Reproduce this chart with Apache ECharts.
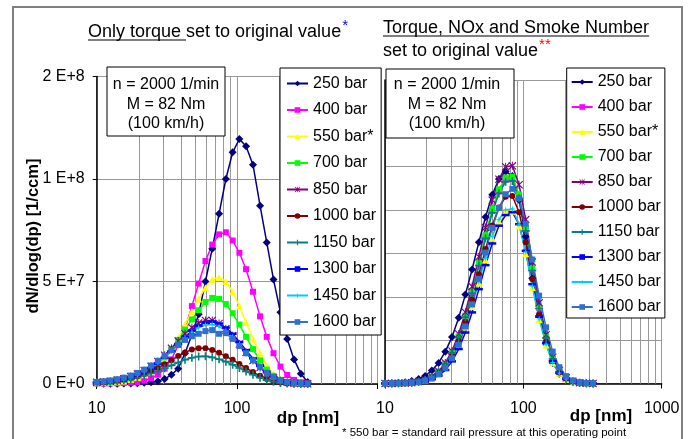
<!DOCTYPE html>
<html lang="en">
<head>
  <meta charset="utf-8">
  <title>Particle size distribution vs. rail pressure</title>
  <style>html, body { margin: 0; padding: 0; background: #fff; }</style>
</head>
<body>
  <div id="myCharts" style="width: 692px;height:439px;"></div>
  <script src="https://cdn.jsdelivr.net/npm/echarts@6/dist/echarts.min.js"></script>
  <script type="text/javascript">
    var FONT = '"Liberation Sans", Arial, sans-serif';

    // particle diameter channels [nm]
    var dp = [10, 11.2, 12.5, 14.0, 15.6, 17.5, 19.5, 21.8, 24.4, 27.3, 30.5, 34.1, 38.1, 42.6, 47.7, 53.3,
      59.6, 66.6, 74.5, 83.3, 93.1, 104, 116, 130, 146, 163, 182, 204, 228, 255, 285, 319];
    var seriesNames = ['250 bar', '400 bar', '550 bar*', '700 bar', '850 bar', '1000 bar', '1150 bar', '1300 bar', '1450 bar', '1600 bar'];
    // y values are in units of 1E+6 1/ccm
    var yTickValues = [0, 50, 100, 150];
    var yTickLabels = ['0 E+0', '5 E+7', '1 E+8', '2 E+8'];
    var minorGrid = [20, 30, 40, 50, 60, 70, 80, 90, 200, 300, 400, 500, 600, 700, 800, 900];

    // left: only torque set to original value
    var torque250 = [0.1, 0.1, 0.1, 0.1, 0.2, 0.3, 0.4, 0.6, 0.9, 1.4, 2.5, 4.5, 7.5, 15, 24, 34, 50, 66, 83, 100, 113, 119.5, 116, 107, 87, 69, 51, 35, 22, 12, 5, 1];
    var torque400 = [0.2, 0.2, 0.3, 0.4, 0.5, 0.7, 1, 1.6, 2.8, 4.5, 7.5, 12, 19, 27, 38, 49, 60, 68, 73, 74, 70, 64, 56, 45, 33, 23, 15, 8.5, 4.4, 2, 0.8, 0.2];
    var torque550 = [0.5, 0.6, 0.8, 1.1, 1.5, 2.2, 3.2, 4.5, 6.5, 9, 12.5, 17, 22.5, 29, 35.5, 41.5, 47, 51, 52, 50, 45, 38, 30, 22, 15, 9, 5, 2.5, 1.2, 0.5, 0.2, 0.1];
    var torque700 = [0.6, 0.8, 1.0, 1.4, 2.0, 2.8, 3.9, 5.3, 7.3, 10, 13, 17, 21.5, 26.5, 31.5, 36, 40, 42, 41.5, 39, 34.5, 29, 23, 17, 11.5, 7, 4, 2, 1, 0.4, 0.2, 0.1];
    var torque850 = [0.8, 1.0, 1.4, 1.9, 2.6, 3.6, 4.9, 6.5, 8.6, 11, 14, 17.5, 21, 24.5, 27.5, 29.8, 31, 31, 29.5, 27, 23.5, 19.5, 15.5, 11.5, 8, 5, 3, 1.6, 0.8, 0.4, 0.2, 0.1];
    var torque1000 = [0.8, 1.0, 1.3, 1.7, 2.2, 2.9, 3.8, 4.9, 6.2, 7.8, 9.6, 11.6, 13.6, 15.4, 16.8, 17.5, 17.4, 16.6, 15.2, 13.5, 11.8, 9.8, 7.8, 5.8, 4, 2.5, 1.4, 0.7, 0.3, 0.1, 0.1, 0];
    var torque1150 = [0.7, 0.9, 1.1, 1.5, 1.9, 2.5, 3.2, 4.1, 5.1, 6.3, 7.7, 9.1, 10.5, 11.8, 12.8, 13.4, 13.5, 13, 12.1, 10.9, 9.4, 7.8, 6.1, 4.5, 3.1, 1.9, 1.1, 0.5, 0.2, 0.1, 0, 0];
    var torque1300 = [0.7, 0.9, 1.2, 1.7, 2.3, 3.2, 4.4, 5.9, 7.8, 10, 12.8, 16, 19.5, 23, 26, 28.5, 30, 30.5, 29.5, 27.5, 24.5, 20.5, 16.5, 12.5, 8.8, 5.7, 3.4, 1.8, 0.9, 0.4, 0.2, 0.1];
    var torque1450 = [0.8, 1.0, 1.3, 1.8, 2.5, 3.4, 4.6, 6.1, 8, 10.3, 13, 16, 19.3, 22.5, 25.3, 27.5, 28.8, 29, 28, 26, 23, 19.5, 15.5, 11.8, 8.3, 5.4, 3.2, 1.7, 0.8, 0.4, 0.2, 0.1];
    var torque1600 = [1.0, 1.3, 1.7, 2.3, 3.1, 4.1, 5.4, 7, 9, 11.3, 13.8, 16.5, 19.2, 21.5, 23.3, 24.5, 25.8, 26.3, 24.5, 24.8, 22, 18.5, 15, 11.5, 8.2, 5.4, 3.3, 1.8, 0.9, 0.4, 0.2, 0.1];

    // right: torque, NOx and smoke number set to original value
    var allSet250 = [0.1, 0.15, 0.3, 0.6, 1.1, 2.1, 3.5, 6, 9.5, 14.7, 21.5, 30.3, 41, 52.6, 65.2, 76.8, 87.1, 94.3, 97.8, 95.7, 84.7, 67.7, 48.5, 31.2, 18.2, 9.5, 4.5, 1.9, 0.7, 0.25, 0.1, 0];
    var allSet400 = [0, 0, 0.1, 0.2, 0.4, 0.8, 1.6, 3.0, 5.3, 8.9, 14.2, 21.5, 31.0, 42.2, 55.0, 67.7, 79.6, 88.6, 94.1, 94.4, 86.3, 71.2, 52.6, 35.0, 21.2, 11.4, 5.6, 2.5, 1.0, 0.4, 0.1, 0];
    var allSet550 = [0, 0, 0.1, 0.2, 0.3, 0.7, 1.4, 2.6, 4.5, 7.5, 11.9, 18.1, 26.1, 35.5, 46.3, 57.0, 67.0, 74.6, 79.2, 79.5, 72.6, 59.9, 44.3, 29.4, 17.8, 9.6, 4.7, 2.1, 0.8, 0.3, 0.1, 0];
    var allSet700 = [0, 0, 0.1, 0.2, 0.4, 0.8, 1.6, 3.1, 5.4, 9.0, 14.3, 21.7, 31.3, 42.6, 55.6, 68.4, 80.4, 89.6, 95.0, 95.4, 87.2, 71.9, 53.2, 35.3, 21.4, 11.5, 5.7, 2.5, 1.0, 0.4, 0.1, 0];
    var allSet850 = [0, 0, 0.1, 0.2, 0.4, 0.9, 1.7, 3.2, 5.7, 9.5, 15.0, 22.8, 32.9, 44.8, 58.5, 72.0, 84.6, 94.2, 100, 100.4, 91.7, 75.6, 56.0, 37.2, 22.5, 12.1, 6.0, 2.6, 1.0, 0.4, 0.1, 0];
    var allSet1000 = [0, 0, 0.1, 0.2, 0.4, 0.8, 1.5, 2.8, 4.9, 8.2, 13.0, 19.7, 28.4, 38.6, 50.4, 62.0, 72.9, 81.2, 86.1, 86.5, 79.0, 65.2, 48.2, 32.0, 19.4, 10.4, 5.1, 2.3, 0.9, 0.3, 0.1, 0];
    var allSet1150 = [0, 0, 0.1, 0.2, 0.4, 0.8, 1.6, 3.0, 5.3, 8.8, 14.0, 21.2, 30.6, 41.7, 54.4, 67.0, 78.8, 87.7, 93.1, 93.4, 85.4, 70.4, 52.1, 34.6, 21.0, 11.3, 5.5, 2.4, 0.9, 0.3, 0.1, 0];
    var allSet1300 = [0, 0, 0, 0.1, 0.2, 0.5, 1.0, 2.0, 3.6, 6.2, 10.2, 15.9, 23.5, 32.8, 43.5, 54.6, 64.6, 72.8, 77.7, 79, 73.5, 61.2, 45.8, 30.8, 18.8, 10.2, 5.0, 2.2, 0.9, 0.3, 0.1, 0];
    var allSet1450 = [0, 0, 0.1, 0.2, 0.3, 0.7, 1.4, 2.6, 4.5, 7.6, 12.1, 18.3, 26.4, 36.0, 46.9, 57.8, 67.9, 75.6, 80.2, 80.5, 73.5, 60.7, 44.9, 29.8, 18.1, 9.7, 4.8, 2.1, 0.8, 0.3, 0.1, 0];
    var allSet1600 = [0, 0, 0.1, 0.1, 0.3, 0.6, 1.2, 2.3, 4.2, 7.2, 11.6, 17.9, 26.3, 36.5, 48.3, 60.4, 71.8, 81.0, 87.3, 89.8, 85.5, 73.7, 57.2, 40.5, 25.9, 14.7, 7.5, 3.4, 1.4, 0.5, 0.2, 0.1];

    var torqueValues = [torque250, torque400, torque550, torque700, torque850, torque1000, torque1150, torque1300, torque1450, torque1600];
    var allSetValues = [allSet250, allSet400, allSet550, allSet700, allSet850, allSet1000, allSet1150, allSet1300, allSet1450, allSet1600];

    // Excel-like marker styles
    var colors = ['#000080', '#FF00FF', '#FFFF00', '#00FF00', '#800080', '#800000', '#008080', '#0000FF', '#00CCFF', '#2F6FD0'];
    var asterisk = 'path://M0,1L1,0L5,4L9,0L10,1L6,5L10,9L9,10L5,6L1,10L0,9L4,5Z M4.4,0L5.6,0L5.6,10L4.4,10Z';
    var plus = 'path://M4,0H6V4H10V6H6V10H4V6H0V4H4Z';
    var star = 'path://M5,0L6,4L10,5L6,6L5,10L4,6L0,5L4,4Z';
    var symbols = ['diamond', 'rect', 'triangle', 'rect', asterisk, 'circle', plus, 'rect', star, 'rect'];
    var sizes = [8, 6, 7, 6, 8, 6, 8, [8, 2.5], 7, 6];

    var myChart = echarts.init(document.getElementById('myCharts'));

    var series = [];
    [torqueValues, allSetValues].forEach(function (panel, p) {
      // minor log grid lines
      series.push({
        type: 'line', xAxisIndex: p, yAxisIndex: p, data: [[10, 0]], showSymbol: false,
        lineStyle: { width: 0 }, silent: true, z: 1,
        markLine: {
          silent: true, z: 1, animation: false, symbol: ['none', 'none'], label: { show: false },
          lineStyle: { color: '#999', width: 1, type: 'solid' },
          emphasis: { disabled: true },
          data: minorGrid.map(function (v) { return { xAxis: v }; })
        }
      });
      panel.forEach(function (vals, i) {
        series.push({
          name: seriesNames[i], type: 'line', xAxisIndex: p, yAxisIndex: p,
          data: dp.map(function (d, k) { return [d, vals[k]]; }),
          symbol: symbols[i], symbolSize: sizes[i], showSymbol: true, showAllSymbol: true,
          lineStyle: { color: colors[i], width: 1.5 },
          itemStyle: { color: colors[i] },
          emphasis: { disabled: true }, z: 2
        });
      });
    });

    function xAxis(p, hideMax) {
      return {
        type: 'log', logBase: 10, gridIndex: p, min: 10, max: 1000,
        axisLine: { show: true, onZero: false, lineStyle: { color: '#000', width: 1.5 } },
        axisTick: { show: true, length: 5, lineStyle: { color: '#000' } },
        axisLabel: {
          fontSize: 16, fontFamily: FONT, color: '#000', margin: 17,
          formatter: function (v) { return hideMax && v >= 1000 ? '' : String(v); }
        },
        splitLine: { show: true, lineStyle: { color: '#999', width: 1 } }
      };
    }

    var chartOption = {
      animation: false,
      textStyle: { fontFamily: FONT },
      grid: [
        { left: 96.7, top: 76.5, width: 280.6, height: 307.5 },
        { left: 385, top: 80, width: 276.7, height: 303.5 }
      ],
      xAxis: [xAxis(0, true), xAxis(1, false)],
      yAxis: [
        {
          type: 'value', gridIndex: 0, min: 0, max: 150, interval: 50,
          axisLine: { show: true, lineStyle: { color: '#000', width: 1.5 } },
          axisTick: { show: true, length: 4, lineStyle: { color: '#000' } },
          axisLabel: {
            fontSize: 16, fontFamily: FONT, color: '#000', margin: 12,
            formatter: function (v) { return yTickLabels[yTickValues.indexOf(v)]; }
          },
          splitLine: { show: true, lineStyle: { color: '#999', width: 1 } }
        },
        {
          type: 'value', gridIndex: 1, min: 0, max: 140, interval: 20,
          axisLine: { show: true, lineStyle: { color: '#000', width: 1.5 } },
          axisTick: { show: false }, axisLabel: { show: false },
          splitLine: { show: true, lineStyle: { color: ['#999', '#999', '#999', '#999', '#999', '#999', 'rgba(0,0,0,0)', '#999'], width: 1 } }
        }
      ],
      legend: [
        {
          data: seriesNames, orient: 'vertical', left: 280, top: 68, padding: [6.5, 5, 4, 6],
          itemGap: 8.5, itemWidth: 21, itemHeight: 7, selectedMode: false,
          backgroundColor: '#fff', borderColor: '#000', borderWidth: 1,
          textStyle: { fontSize: 16, fontFamily: FONT, color: '#000', lineHeight: 18 }
        },
        {
          data: seriesNames, orient: 'vertical', left: 566.7, top: 68, padding: [5, 4, 2, 4],
          itemGap: 7, itemWidth: 21, itemHeight: 7, selectedMode: false,
          backgroundColor: '#fff', borderColor: '#000', borderWidth: 1,
          textStyle: { fontSize: 16, fontFamily: FONT, color: '#000', lineHeight: 18 }
        }
      ],
      series: series
    };

    // measure title widths for underline and asterisk placement
    var ctx = document.createElement('canvas').getContext('2d');
    function textWidth(str, size) { ctx.font = size + 'px ' + FONT; return ctx.measureText(str).width; }

    var leftMain = 'Only torque set to original value';
    var rightLine1 = 'Torque, NOx and Smoke Number';
    var rightLine2 = 'set to original value';
    var boxText = 'n = 2000 1/min\nM = 82 Nm\n(100 km/h)';

    function txt(x, y, text, extra) {
      var style = { text: text, fontSize: 16, fontFamily: FONT, fill: '#000', align: 'left', verticalAlign: 'middle' };
      for (var k in extra) style[k] = extra[k];
      return { type: 'text', x: x, y: y, style: style, silent: true, z: 20 };
    }
    function ln(x1, y1, x2, y2) {
      return { type: 'line', shape: { x1: x1, y1: y1, x2: x2, y2: y2 }, style: { stroke: '#000', lineWidth: 1.2 }, silent: true, z: 20 };
    }

    chartOption.graphic = [
      { type: 'rect', shape: { x: 13, y: 7, width: 669, height: 445 }, style: { fill: 'none', stroke: '#808080', lineWidth: 2 }, silent: true, z: 0 },
      txt(88, 32, leftMain, { fontSize: 18 }),
      ln(88, 40, 88 + textWidth('Only torque ', 18), 40),
      txt(89 + textWidth(leftMain, 18), 26, '*', { fontSize: 15, fill: '#0000FF' }),
      txt(383, 28, rightLine1, { fontSize: 18 }),
      ln(383, 36, 383 + textWidth(rightLine1, 18), 36),
      txt(383, 51, rightLine2, { fontSize: 18 }),
      txt(384 + textWidth(rightLine2, 18), 45, '**', { fontSize: 15, fill: '#FF0000' }),
      // info boxes
      { type: 'rect', shape: { x: 107, y: 67, width: 118, height: 69 }, style: { fill: '#fff', stroke: '#000', lineWidth: 1 }, silent: true, z: 15 },
      txt(166, 75.3, boxText, { align: 'center', verticalAlign: 'top', lineHeight: 19.5 }),
      { type: 'rect', shape: { x: 386, y: 69, width: 128, height: 69 }, style: { fill: '#fff', stroke: '#000', lineWidth: 1 }, silent: true, z: 15 },
      txt(447, 75.3, boxText, { align: 'center', verticalAlign: 'top', lineHeight: 19.5 }),
      // axis names
      { type: 'text', x: 33, y: 236, rotation: Math.PI / 2, silent: true, z: 20,
        style: { text: 'dN/dlog(dp) [1/ccm]', fontSize: 16.5, fontWeight: 'bold', fontFamily: FONT, fill: '#000', align: 'center', verticalAlign: 'middle' } },
      txt(308, 418, 'dp [nm]', { align: 'center', fontSize: 17, fontWeight: 'bold' }),
      txt(601, 416, 'dp [nm]', { align: 'center', fontSize: 17, fontWeight: 'bold' }),
      txt(342, 433, '* 550 bar = standard rail pressure at this operating point', { fontSize: 11.5 })
    ];

    myChart.setOption(chartOption);
  </script>
</body>
</html>
